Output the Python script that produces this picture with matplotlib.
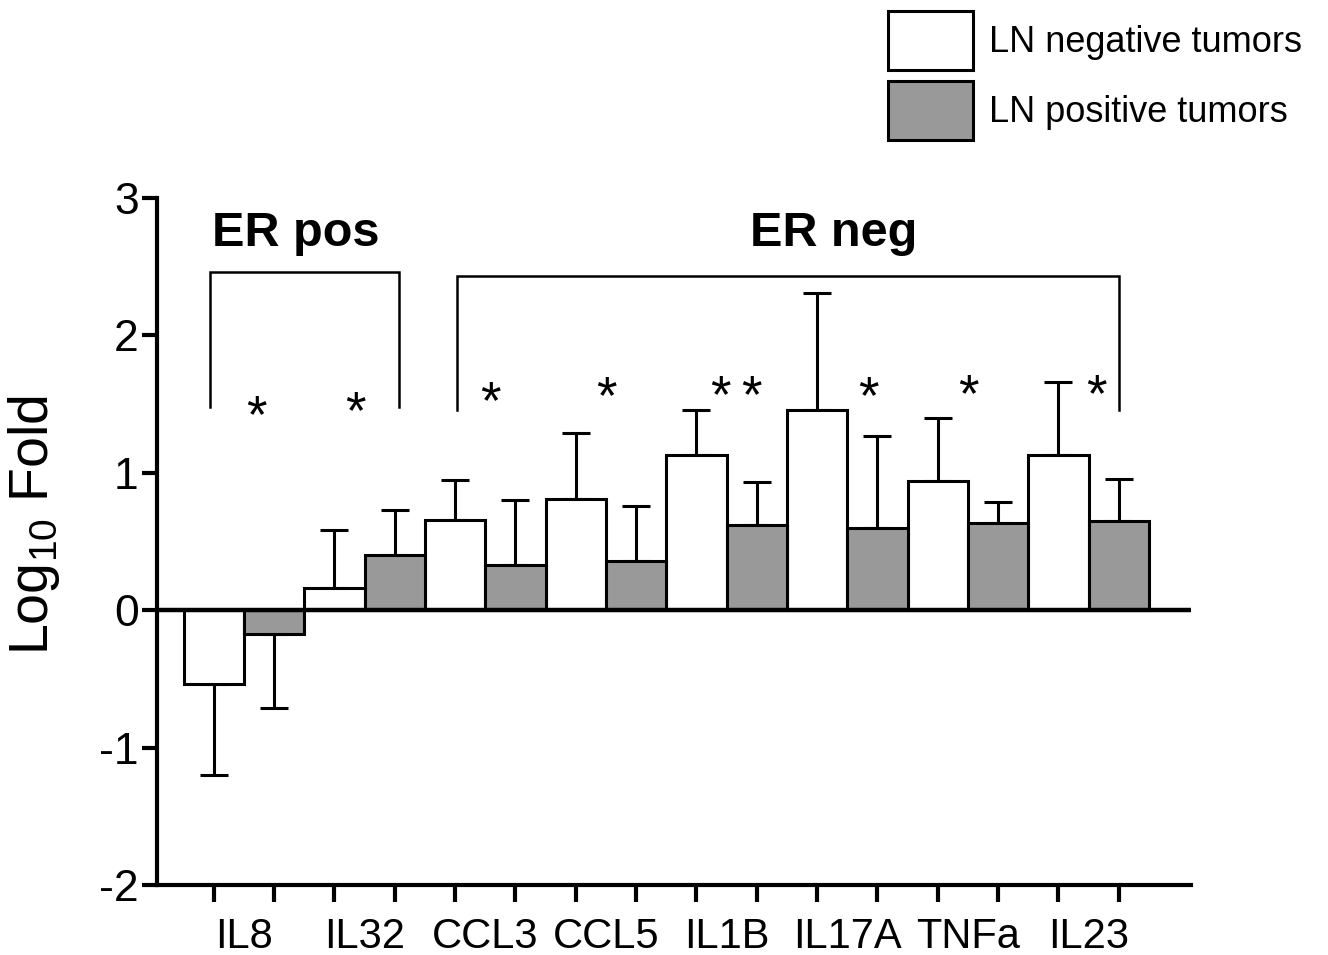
import numpy as np
import matplotlib
matplotlib.use("Agg")
import matplotlib.pyplot as plt

plt.rcParams["font.family"] = ["Liberation Sans", "DejaVu Sans"]
plt.rcParams["mathtext.fontset"] = "custom"
plt.rcParams["mathtext.rm"] = "Liberation Sans"

# ─── DATA ─────────────────────────────────────────────────────────────────────
GENES = ["IL8", "IL32", "CCL3", "CCL5", "IL1B", "IL17A", "TNFa", "IL23"]
LN_NEG = [-0.54, 0.16, 0.66, 0.81, 1.13, 1.46, 0.94, 1.13]
LN_NEG_ERR = [0.66, 0.42, 0.29, 0.48, 0.33, 0.85, 0.46, 0.53]
LN_POS = [-0.17, 0.40, 0.33, 0.36, 0.62, 0.60, 0.635, 0.65]
LN_POS_ERR = [0.54, 0.33, 0.47, 0.40, 0.31, 0.67, 0.155, 0.305]

# significance marks (text anchor positions, data units)
STAR_X = [0.70, 2.35, 4.58, 6.51, 8.67, 10.85, 12.51, 14.63]
STAR_Y = [1.40, 1.43, 1.50, 1.54, 1.54, 1.54, 1.55, 1.55]
STAR_TXT = ["*", "*", "*", "*", "* *", "*", "*", "*"]

GROUPS = ["ER pos", "ER neg"]
GROUP_SPAN = [(-0.06, 3.07), (4.04, 15.01)]
GROUP_TOP = [2.46, 2.43]
GROUP_LOW = [1.48, 1.46]
GROUP_LABEL_X = [1.36, 10.28]
GROUP_LABEL_Y = 2.65

GRAY = "#999999"

# ─── FIGURE ───────────────────────────────────────────────────────────────────
fig = plt.figure(figsize=(13.28, 9.55), dpi=100, facecolor="white")
ax = fig.add_axes([0.118, 0.0733, 0.779, 0.7194])

n = len(GENES)
x_neg = np.arange(n) * 2
x_pos = x_neg + 1

neg_vals = np.array(LN_NEG)
pos_vals = np.array(LN_POS)
neg_err = np.array(LN_NEG_ERR)
pos_err = np.array(LN_POS_ERR)

b1 = ax.bar(x_neg, neg_vals, width=1.0, color="white", edgecolor="black",
            linewidth=2.2, zorder=2, label="LN negative tumors")
b2 = ax.bar(x_pos, pos_vals, width=1.0, color=GRAY, edgecolor="black",
            linewidth=2.2, zorder=2, label="LN positive tumors")

# one-sided error bars (away from zero)
for xs, vals, errs in [(x_neg, neg_vals, neg_err), (x_pos, pos_vals, pos_err)]:
    lower = np.where(vals < 0, errs, 0)
    upper = np.where(vals >= 0, errs, 0)
    ax.errorbar(xs, vals, yerr=[lower, upper], fmt="none", ecolor="black",
                elinewidth=2.2, capsize=10, capthick=2.2, zorder=1)

ax.axhline(0, color="black", linewidth=3.2, zorder=3)

# significance stars
for sx, sy, st in zip(STAR_X, STAR_Y, STAR_TXT):
    ax.text(sx, sy, st.replace(" ", "\u2009"), ha="center", va="center",
            fontsize=38, zorder=4)

# group brackets
for (x0, x1), top, low, lab, lx in zip(GROUP_SPAN, GROUP_TOP, GROUP_LOW,
                                       GROUPS, GROUP_LABEL_X):
    ax.plot([x0, x0, x1, x1], [low, top, top, low], color="black",
            linewidth=1.8, solid_joinstyle="miter", zorder=4)
    ax.text(lx, GROUP_LABEL_Y, lab, ha="center", va="baseline",
            fontsize=35, fontweight="bold")

# axes
ax.set_xlim(-0.945, 16.2)
ax.set_ylim(-2, 3)
ax.set_yticks([-2, -1, 0, 1, 2, 3])
ax.set_yticklabels(["-2", "-1", "0", "1", "2", "3"])
ax.tick_params(axis="y", labelsize=32, length=11, width=3, pad=2,
               direction="out")

ax.set_xticks(np.arange(2 * n))
ax.set_xticklabels([])
ax.set_xticks(x_neg + 0.5, minor=True)
ax.set_xticklabels(GENES, minor=True)
ax.tick_params(axis="x", which="major", length=12, width=3, direction="out")
ax.tick_params(axis="x", which="minor", length=0, labelsize=30, pad=23)

for side in ["top", "right"]:
    ax.spines[side].set_visible(False)
for side in ["left", "bottom"]:
    ax.spines[side].set_linewidth(3)

ax.set_ylabel(r"Log$_{\mathregular{10}}$ Fold", fontsize=40)
ax.yaxis.set_label_coords(-0.092, 0.524)

# legend (figure top-right)
leg = fig.legend(handles=[b1, b2], loc="upper left",
                 bbox_to_anchor=(888 / 1328, 1 - 11 / 955),
                 frameon=False, fontsize=26, borderpad=0, borderaxespad=0,
                 handlelength=2.35, handleheight=2.14,
                 handletextpad=0.45, labelspacing=0.3)

fig.savefig("out.png", dpi=100, facecolor="white")
